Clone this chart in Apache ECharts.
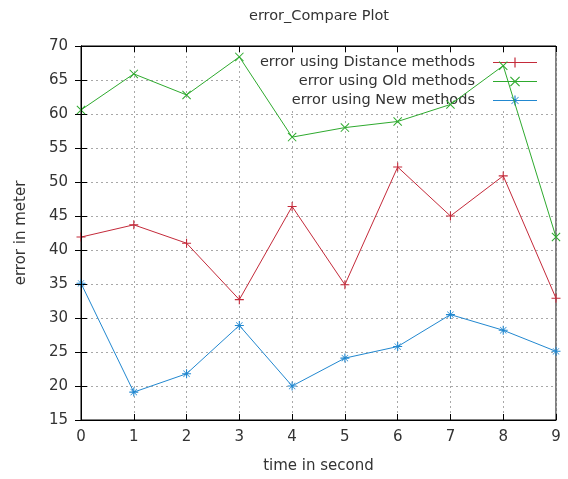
<!DOCTYPE html>
<html>
<head>
<meta charset="utf-8">
<script src="https://cdn.jsdelivr.net/npm/echarts@6/dist/echarts.min.js"></script>
<style>
  html, body { margin: 0; padding: 0; background: #fff; }
  #chart { width: 568px; height: 479px; }
</style>
</head>
<body>
<div id="chart"></div>
<script>
// time steps (seconds)
const timeSteps = [0, 1, 2, 3, 4, 5, 6, 7, 8, 9];
// error per method (meters)
const distanceErr = [41.9, 43.7, 41.0, 32.7, 46.4, 34.9, 52.2, 45.0, 50.9, 32.9];
const oldErr      = [60.6, 65.9, 62.8, 68.4, 56.6, 58.0, 58.9, 61.4, 67.1, 41.9];
const newErr      = [35.1, 19.1, 21.8, 28.9, 20.0, 24.1, 25.8, 30.5, 28.2, 25.1];
const seriesNames = ['error using Distance methods', 'error using Old methods', 'error using New methods'];
const seriesColors = ['#c42a3a', '#2eaa2e', '#2288d0'];

const FONT = 'DejaVu Sans';

// marker outlines as polygons inside a 10x10 box (all wound the same way)
const PLUS = [[[4.4,0],[5.6,0],[5.6,4.4],[10,4.4],[10,5.6],[5.6,5.6],[5.6,10],[4.4,10],[4.4,5.6],[0,5.6],[0,4.4],[4.4,4.4]]];
const CROSS = [[[0,0.8],[0.8,0],[10,9.2],[9.2,10]], [[9.2,0],[10,0.8],[0.8,10],[0,9.2]]];
const STAR = PLUS.concat([[[1.2,1.7],[1.7,1.2],[8.8,8.3],[8.3,8.8]], [[8.3,1.2],[8.8,1.7],[1.7,8.8],[1.2,8.3]]]);

function polyPath(polys, dx, dy) {
  return polys.map(p => 'M' + p.map(q => (q[0] + dx) + ',' + (q[1] + dy)).join(' L') + ' Z').join(' ');
}
function symbolPath(polys) {
  return 'path://' + polyPath(polys, 0, 0);
}
// legend key: a 44px line with the marker in its middle
function legendIcon(polys) {
  const line = [[[0,4.4],[44,4.4],[44,5.6],[0,5.6]]];
  return 'path://' + polyPath(line, 0, 0) + ' ' + polyPath(polys, 17, 0);
}

const markers = [PLUS, CROSS, STAR];

function pairs(vals) {
  return timeSteps.map((t, i) => [t, vals[i]]);
}

function makeSeries(name, vals, color, marker) {
  return {
    name: name,
    type: 'line',
    data: pairs(vals),
    symbol: symbolPath(marker),
    symbolSize: 9,
    showAllSymbol: true,
    lineStyle: { color: color, width: 1 },
    itemStyle: { color: color },
    emphasis: { disabled: true },
    animation: false,
    z: 3
  };
}

const chart = echarts.init(document.getElementById('chart'), null, { renderer: 'canvas' });

const gridLine = { show: true, lineStyle: { color: '#a8a8a8', type: [2, 3], width: 1 } };

chart.setOption({
  backgroundColor: '#ffffff',
  animation: false,
  title: {
    text: 'error_Compare Plot',
    left: 314,
    top: 4,
    textAlign: 'center',
    textStyle: { fontFamily: FONT, fontSize: 14.5, fontWeight: 'normal', color: '#333' }
  },
  // opaque key box: hides the grid behind it, data lines still pass over it
  legend: {
    orient: 'vertical',
    right: 13,
    top: 53,
    align: 'right',
    itemWidth: 44,
    itemHeight: 10,
    itemGap: 4,
    padding: [2, 18, 0, 20],
    backgroundColor: '#ffffff',
    z: 1,
    selectedMode: false,
    data: seriesNames.map((n, i) => ({
      name: n,
      icon: legendIcon(markers[i]),
      itemStyle: { color: seriesColors[i], borderWidth: 0 }
    })),
    textStyle: { fontFamily: FONT, fontSize: 14.5, color: '#333', padding: [0, 13, 0, 0] }
  },
  grid: {
    left: 81, right: 12, top: 46, bottom: 58,
    show: true, borderColor: '#000', borderWidth: 1, backgroundColor: 'transparent'
  },
  xAxis: [
    {
      type: 'value', min: 0, max: 9, interval: 1,
      name: 'time in second', nameLocation: 'middle', nameGap: 39,
      nameTextStyle: { fontFamily: FONT, fontSize: 15, color: '#333' },
      axisLine: { show: true, lineStyle: { color: '#000', width: 1 } },
      axisTick: { show: true, inside: true, length: 6, lineStyle: { color: '#000' } },
      axisLabel: { fontFamily: FONT, fontSize: 15, color: '#333', margin: 10 },
      splitLine: gridLine
    },
    {
      type: 'value', min: 0, max: 9, interval: 1, position: 'top', z: 5,
      axisLine: { show: true, lineStyle: { color: '#000', width: 1 } },
      axisTick: { show: true, inside: true, length: 6, lineStyle: { color: '#000' } },
      axisLabel: { show: false },
      splitLine: { show: false }
    }
  ],
  yAxis: [
    {
      type: 'value', min: 15, max: 70, interval: 5,
      name: 'error in meter', nameLocation: 'middle', nameGap: 52, nameRotate: 90,
      nameTextStyle: { fontFamily: FONT, fontSize: 15, color: '#333' },
      axisLine: { show: true, lineStyle: { color: '#000', width: 1 } },
      axisTick: { show: true, inside: true, length: 6, lineStyle: { color: '#000' } },
      axisLabel: { fontFamily: FONT, fontSize: 15, color: '#333', margin: 13 },
      splitLine: gridLine
    },
    {
      type: 'value', min: 15, max: 70, interval: 5, position: 'right', z: 5,
      axisLine: { show: true, lineStyle: { color: '#000', width: 1 } },
      axisTick: { show: true, inside: true, length: 6, lineStyle: { color: '#000' } },
      axisLabel: { show: false },
      splitLine: { show: false }
    }
  ],
  series: [
    makeSeries(seriesNames[0], distanceErr, seriesColors[0], PLUS),
    makeSeries(seriesNames[1], oldErr, seriesColors[1], CROSS),
    makeSeries(seriesNames[2], newErr, seriesColors[2], STAR)
  ]
});
</script>
</body>
</html>
